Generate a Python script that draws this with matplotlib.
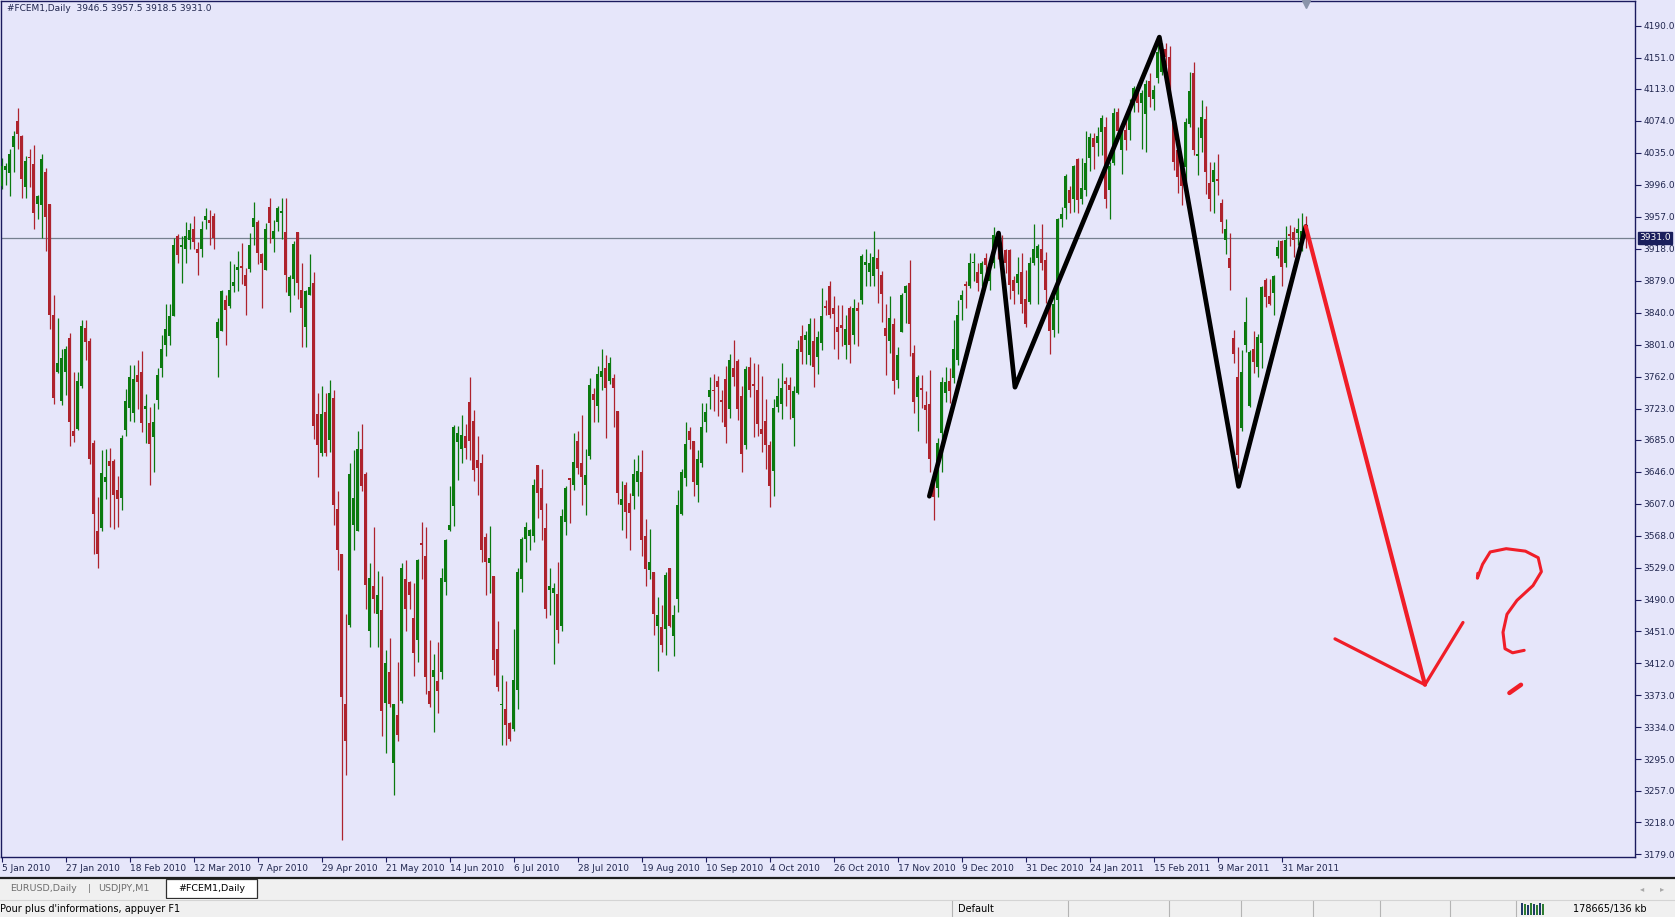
import numpy as np
import matplotlib
matplotlib.use("Agg")
import matplotlib.pyplot as plt
from matplotlib.patches import Rectangle

# ---- data (daily #FCEM1 candles) ----
opens = [
    3995, 4014, 4010, 4042, 4074, 4055, 3993, 4030, 4021, 3973,
    3971, 4011, 3972, 3837, 3768, 3732, 3767, 3809, 3696, 3698,
    3750, 3821, 3805, 3681, 3574, 3577, 3633, 3659, 3659, 3623,
    3614, 3697, 3724, 3718, 3764, 3768, 3723, 3705, 3688, 3733,
    3772, 3801, 3811, 3836, 3933, 3920, 3918, 3929, 3942, 3918,
    3918, 3953, 3953, 3958, 3809, 3818, 3855, 3848, 3872, 3892,
    3897, 3886, 3893, 3945, 3950, 3911, 3892, 3969, 3930, 3950,
    3962, 3938, 3860, 3881, 3938, 3867, 3822, 3862, 3876, 3716,
    3669, 3719, 3684, 3736, 3600, 3546, 3362, 3459, 3581, 3574,
    3674, 3643, 3451, 3507, 3472, 3477, 3364, 3402, 3291, 3349,
    3366, 3515, 3511, 3468, 3440, 3559, 3543, 3378, 3395, 3391,
    3401, 3511, 3575, 3604, 3682, 3673, 3689, 3731, 3708, 3660,
    3656, 3566, 3534, 3519, 3430, 3361, 3357, 3339, 3332, 3380,
    3515, 3564, 3567, 3567, 3654, 3626, 3577, 3501, 3498, 3497,
    3458, 3585, 3638, 3630, 3683, 3657, 3630, 3665, 3741, 3726,
    3761, 3773, 3757, 3760, 3720, 3605, 3630, 3608, 3616, 3633,
    3646, 3567, 3526, 3524, 3458, 3457, 3454, 3529, 3445, 3491,
    3594, 3638, 3695, 3683, 3630, 3656, 3706, 3737, 3746, 3757,
    3733, 3759, 3722, 3772, 3781, 3738, 3679, 3774, 3753, 3746,
    3698, 3708, 3679, 3647, 3725, 3729, 3757, 3752, 3711, 3742,
    3812, 3806, 3788, 3805, 3786, 3803, 3848, 3873, 3846, 3823,
    3825, 3801, 3845, 3813, 3846, 3855, 3898, 3890, 3885, 3906,
    3886, 3821, 3805, 3826, 3758, 3816, 3864, 3876, 3791, 3737,
    3748, 3727, 3729, 3640, 3626, 3693, 3742, 3757, 3760, 3782,
    3855, 3875, 3873, 3900, 3889, 3887, 3907, 3879, 3900, 3935,
    3925, 3916, 3916, 3880, 3876, 3890, 3857, 3853, 3901, 3906,
    3918, 3904, 3846, 3819, 3855, 3954, 3967, 3990, 3979, 4027,
    3979, 3990, 4029, 4053, 4047, 4060, 4066, 3990, 4022, 4085,
    4038, 4063, 4063, 4097, 4110, 4096, 4082, 4122, 4101, 4126,
    4134, 4161, 4152, 4075, 4038, 4026, 4017, 4070, 4132, 4031,
    4053, 4076, 3998, 3999, 4003, 3974, 3929, 3906, 3809, 3762,
    3699, 3801, 3726, 3795, 3774, 3803, 3880, 3860, 3864, 3909,
    3927, 3900, 3936, 3938, 3937, 3925, 3946.5,
]
highs = [
    4028, 4023, 4039, 4062, 4090, 4057, 4031, 4039, 4045, 3984,
    4034, 4016, 3972, 3861, 3834, 3795, 3799, 3815, 3768, 3767,
    3831, 3831, 3809, 3685, 3615, 3672, 3673, 3675, 3661, 3641,
    3691, 3747, 3776, 3776, 3782, 3793, 3741, 3725, 3730, 3772,
    3813, 3851, 3851, 3931, 3936, 3934, 3950, 3949, 3958, 3926,
    3952, 3968, 3965, 3962, 3833, 3868, 3862, 3903, 3899, 3915,
    3925, 3894, 3937, 3975, 3953, 3913, 3949, 3980, 3953, 3970,
    3980, 3980, 3886, 3927, 3938, 3900, 3867, 3912, 3890, 3742,
    3751, 3742, 3758, 3745, 3622, 3546, 3472, 3657, 3672, 3695,
    3704, 3646, 3534, 3579, 3525, 3519, 3428, 3443, 3362, 3414,
    3534, 3538, 3513, 3510, 3540, 3584, 3579, 3440, 3423, 3438,
    3528, 3564, 3628, 3703, 3702, 3715, 3704, 3761, 3721, 3690,
    3668, 3571, 3580, 3519, 3464, 3398, 3391, 3341, 3454, 3528,
    3566, 3584, 3576, 3637, 3654, 3649, 3608, 3529, 3510, 3536,
    3600, 3628, 3638, 3693, 3695, 3715, 3674, 3760, 3748, 3775,
    3795, 3788, 3786, 3765, 3720, 3634, 3633, 3620, 3662, 3666,
    3672, 3588, 3576, 3524, 3493, 3483, 3523, 3529, 3483, 3624,
    3649, 3706, 3700, 3683, 3672, 3730, 3730, 3761, 3765, 3763,
    3746, 3775, 3790, 3806, 3784, 3751, 3775, 3786, 3778, 3777,
    3763, 3734, 3683, 3734, 3760, 3779, 3761, 3761, 3751, 3807,
    3825, 3817, 3834, 3834, 3817, 3870, 3855, 3879, 3860, 3849,
    3849, 3837, 3848, 3857, 3853, 3912, 3917, 3913, 3939, 3917,
    3891, 3851, 3860, 3834, 3798, 3864, 3874, 3904, 3801, 3764,
    3764, 3744, 3770, 3644, 3687, 3762, 3774, 3772, 3831, 3855,
    3867, 3878, 3913, 3913, 3900, 3903, 3913, 3898, 3945, 3940,
    3935, 3918, 3918, 3885, 3908, 3913, 3892, 3908, 3948, 3924,
    3948, 3914, 3849, 3860, 3955, 3969, 4009, 3994, 4020, 4028,
    4029, 4061, 4059, 4059, 4067, 4081, 4078, 4024, 4089, 4090,
    4067, 4075, 4101, 4116, 4120, 4112, 4124, 4132, 4118, 4178,
    4169, 4169, 4165, 4079, 4043, 4028, 4077, 4134, 4146, 4067,
    4099, 4092, 4024, 4024, 4034, 3979, 3954, 3937, 3819, 3798,
    3794, 3859, 3794, 3817, 3814, 3872, 3882, 3881, 3886, 3929,
    3928, 3946, 3947, 3945, 3955, 3962, 3957.5,
]
lows = [
    3991, 3996, 3982, 4012, 4039, 3980, 3980, 3993, 3942, 3954,
    3931, 3915, 3820, 3729, 3766, 3727, 3740, 3677, 3682, 3697,
    3748, 3782, 3655, 3545, 3528, 3574, 3613, 3578, 3576, 3578,
    3599, 3689, 3708, 3707, 3723, 3694, 3681, 3630, 3646, 3722,
    3761, 3787, 3801, 3836, 3901, 3876, 3901, 3918, 3918, 3886,
    3908, 3942, 3922, 3917, 3762, 3817, 3801, 3846, 3865, 3866,
    3875, 3837, 3889, 3923, 3899, 3846, 3892, 3925, 3914, 3940,
    3930, 3865, 3841, 3862, 3857, 3798, 3798, 3861, 3686, 3640,
    3665, 3665, 3670, 3581, 3526, 3197, 3276, 3456, 3550, 3573,
    3622, 3479, 3432, 3473, 3432, 3323, 3303, 3359, 3251, 3317,
    3364, 3451, 3479, 3397, 3414, 3515, 3375, 3359, 3328, 3351,
    3393, 3495, 3574, 3580, 3636, 3657, 3661, 3660, 3634, 3618,
    3536, 3496, 3498, 3398, 3379, 3313, 3313, 3317, 3330, 3357,
    3499, 3536, 3550, 3560, 3589, 3563, 3467, 3471, 3411, 3437,
    3451, 3569, 3583, 3624, 3643, 3605, 3593, 3662, 3706, 3707,
    3746, 3687, 3753, 3700, 3607, 3575, 3565, 3550, 3601, 3616,
    3543, 3507, 3515, 3447, 3403, 3426, 3422, 3457, 3421, 3475,
    3593, 3628, 3674, 3616, 3609, 3652, 3694, 3723, 3720, 3714,
    3706, 3681, 3712, 3751, 3709, 3645, 3674, 3737, 3688, 3690,
    3670, 3649, 3603, 3616, 3719, 3710, 3726, 3710, 3677, 3741,
    3777, 3777, 3776, 3749, 3765, 3794, 3837, 3834, 3795, 3784,
    3799, 3784, 3778, 3802, 3799, 3851, 3873, 3873, 3873, 3852,
    3829, 3764, 3791, 3741, 3748, 3816, 3827, 3787, 3717, 3696,
    3724, 3681, 3646, 3587, 3615, 3646, 3731, 3730, 3754, 3776,
    3831, 3845, 3870, 3878, 3866, 3873, 3886, 3867, 3895, 3905,
    3890, 3888, 3857, 3851, 3863, 3839, 3823, 3851, 3898, 3851,
    3892, 3852, 3790, 3810, 3815, 3944, 3954, 3961, 3963, 3962,
    3973, 3982, 4013, 4015, 4031, 4032, 3967, 3954, 4020, 4058,
    4009, 4038, 4051, 4085, 4085, 4039, 4036, 4091, 4087, 4120,
    4130, 4141, 4104, 4014, 3986, 3971, 4000, 4067, 4032, 4008,
    4036, 3985, 3964, 3962, 3984, 3937, 3912, 3867, 3778, 3650,
    3695, 3792, 3725, 3766, 3762, 3772, 3847, 3849, 3837, 3907,
    3872, 3896, 3921, 3908, 3923, 3915, 3918.5,
]
closes = [
    4019, 4019, 4034, 4056, 4058, 4003, 4025, 4028, 3962, 3982,
    4027, 3957, 3837, 3736, 3778, 3785, 3795, 3707, 3690, 3757,
    3824, 3804, 3662, 3594, 3545, 3644, 3639, 3653, 3618, 3613,
    3687, 3732, 3761, 3759, 3755, 3705, 3726, 3680, 3706, 3764,
    3795, 3820, 3836, 3923, 3910, 3922, 3934, 3941, 3926, 3913,
    3942, 3958, 3949, 3931, 3829, 3866, 3843, 3868, 3877, 3896,
    3895, 3872, 3923, 3956, 3913, 3901, 3942, 3949, 3939, 3967,
    3963, 3886, 3883, 3924, 3876, 3845, 3866, 3871, 3702, 3679,
    3716, 3669, 3742, 3605, 3550, 3371, 3318, 3643, 3614, 3674,
    3628, 3508, 3516, 3491, 3495, 3354, 3413, 3362, 3362, 3325,
    3529, 3478, 3496, 3425, 3538, 3556, 3395, 3362, 3404, 3378,
    3516, 3562, 3581, 3700, 3693, 3691, 3675, 3683, 3648, 3651,
    3550, 3536, 3541, 3416, 3383, 3362, 3337, 3320, 3392, 3524,
    3564, 3579, 3575, 3630, 3620, 3599, 3478, 3506, 3504, 3453,
    3592, 3626, 3636, 3658, 3650, 3639, 3642, 3752, 3733, 3765,
    3769, 3748, 3779, 3748, 3620, 3613, 3597, 3596, 3643, 3647,
    3563, 3527, 3536, 3472, 3471, 3435, 3520, 3458, 3471, 3605,
    3646, 3680, 3685, 3633, 3662, 3700, 3719, 3745, 3744, 3749,
    3731, 3700, 3782, 3761, 3723, 3668, 3771, 3745, 3751, 3704,
    3692, 3679, 3628, 3724, 3738, 3748, 3753, 3746, 3744, 3795,
    3792, 3813, 3826, 3774, 3810, 3836, 3846, 3837, 3838, 3816,
    3821, 3820, 3801, 3846, 3842, 3909, 3902, 3901, 3908, 3893,
    3863, 3812, 3834, 3757, 3788, 3862, 3873, 3826, 3731, 3762,
    3746, 3721, 3662, 3615, 3681, 3755, 3755, 3744, 3795, 3837,
    3862, 3872, 3900, 3902, 3876, 3900, 3898, 3894, 3935, 3925,
    3905, 3900, 3874, 3866, 3887, 3851, 3826, 3900, 3918, 3921,
    3900, 3867, 3817, 3851, 3954, 3960, 4007, 3974, 4019, 3977,
    3992, 4022, 4054, 4042, 4055, 4077, 3978, 4019, 4084, 4061,
    4061, 4051, 4083, 4114, 4096, 4108, 4119, 4103, 4112, 4158,
    4154, 4152, 4110, 4024, 4006, 3995, 4073, 4110, 4038, 4034,
    4078, 4011, 3978, 4014, 4000, 3951, 3942, 3894, 3790, 3666,
    3768, 3829, 3792, 3780, 3810, 3871, 3859, 3851, 3885, 3920,
    3896, 3929, 3933, 3929, 3942, 3940, 3931.0,
]

price_ticks = [4190, 4151, 4113, 4074, 4035, 3996, 3957, 3918, 3879, 3840,
               3801, 3762, 3723, 3685, 3646, 3607, 3568, 3529, 3490, 3451,
               3412, 3373, 3334, 3295, 3257, 3218, 3179]
date_labels = ["5 Jan 2010", "27 Jan 2010", "18 Feb 2010", "12 Mar 2010", "7 Apr 2010",
               "29 Apr 2010", "21 May 2010", "14 Jun 2010", "6 Jul 2010", "28 Jul 2010",
               "19 Aug 2010", "10 Sep 2010", "4 Oct 2010", "26 Oct 2010", "17 Nov 2010",
               "9 Dec 2010", "31 Dec 2010", "24 Jan 2011", "15 Feb 2011", "9 Mar 2011",
               "31 Mar 2011"]
label_every = 16
last_price = 3931.0

# hand drawn marks (bar index, price)
zigzag_x = [231.9, 249.2, 253.3, 289.4, 309.2, 326.0]
zigzag_y = [3616, 3937, 3749, 4176, 3628, 3945]
arrow_x = [326.0, 355.8]
arrow_y = [3945, 3386]
head_x = [333.3, 355.8, 365.3]
head_y = [3442, 3386, 3462]
qmark_x = [369.0, 368.9, 370.2, 372.1, 376.1, 380.9, 384.1, 384.9, 382.8,
           378.8, 376.3, 375.3, 375.8, 377.7, 380.6]
qmark_y = [3522, 3516, 3533, 3548, 3552, 3549, 3541, 3524, 3507,
           3489, 3472, 3450, 3430, 3425, 3428]
qdot_x = [376.9, 379.8]
qdot_y = [3376, 3386]

BG = "#E6E6FA"
BULL = "#0B7A0F"
BEAR = "#AE232D"
NAVY = "#1B1B5E"
TXT = "#20264E"
FONT = "DejaVu Sans"

W, H = 1675, 917
fig = plt.figure(figsize=(W / 100, H / 100), dpi=100)
fig.patch.set_facecolor(BG)

# whole-window layer in pixel coordinates (tab bar, status bar)
win = fig.add_axes([0, 0, 1, 1])
win.set_xlim(0, W)
win.set_ylim(H, 0)
win.axis("off")
win.set_facecolor(BG)

# chart area
ax = fig.add_axes([1 / W, (H - 857) / H, 1634 / W, 856 / H])
ax.set_facecolor(BG)
ax.set_xlim(-0.175, 408.3)
ax.set_ylim(3175.9, 4220.1)

o = np.array(opens, float)
h = np.array(highs, float)
l = np.array(lows, float)
c = np.array(closes, float)
x = np.arange(len(o))
cols = np.where(c >= o, BULL, BEAR)

ax.axhline(last_price, color="#76808F", lw=0.9, zorder=1)
ax.vlines(x, l, h, colors=cols, lw=0.9, zorder=2)
body = np.maximum(np.abs(c - o), 1.6)
ax.bar(x, body, bottom=np.minimum(o, c), width=0.8, color=cols, linewidth=0, zorder=3)

# drawings
ax.plot(zigzag_x, zigzag_y, color="black", lw=3.4, solid_joinstyle="round",
        solid_capstyle="round", zorder=5)
ax.plot(arrow_x, arrow_y, color="#F01E28", lw=3.0, solid_capstyle="round", zorder=5)
ax.plot(head_x, head_y, color="#F01E28", lw=2.3, solid_joinstyle="round",
        solid_capstyle="round", zorder=5)
ax.plot(qmark_x, qmark_y, color="#F01E28", lw=2.2, solid_joinstyle="round",
        solid_capstyle="round", zorder=5)
ax.plot(qdot_x, qdot_y, color="#F01E28", lw=3.2, solid_capstyle="round", zorder=5)

# axes styling
for s in ax.spines.values():
    s.set_color(NAVY)
    s.set_linewidth(1.0)
ax.yaxis.tick_right()
ax.set_yticks(price_ticks)
ax.set_yticklabels([f"{p:.1f}" for p in price_ticks])
ax.tick_params(axis="y", direction="out", length=4, width=0.8, color=NAVY,
               labelcolor=TXT, labelsize=6.5, pad=2)
ax.set_xticks(np.arange(len(date_labels)) * label_every)
ax.set_xticklabels(date_labels)
ax.tick_params(axis="x", direction="out", length=3.5, width=0.8, color=NAVY,
               labelcolor=TXT, labelsize=6.5, pad=1.5)
for lbl in ax.get_xticklabels() + ax.get_yticklabels():
    lbl.set_fontfamily(FONT)
for lbl in ax.get_xticklabels():
    lbl.set_horizontalalignment("left")

# last price box on the scale
ax.annotate(f"{last_price:.1f}", xy=(1, last_price), xycoords=("axes fraction", "data"),
            xytext=(4, 0), textcoords="offset pixels", va="center", ha="left",
            fontsize=6.5, family=FONT, color="white",
            bbox=dict(boxstyle="square,pad=0.15", fc="#1A1F5C", ec="#1A1F5C"))

# header and shift marker
ax.annotate("#FCEM1,Daily  3946.5 3957.5 3918.5 3931.0", xy=(0, 1), xycoords="axes fraction",
            xytext=(6, -3), textcoords="offset pixels", va="top", ha="left",
            fontsize=6.5, family=FONT, color=TXT)
ax.plot([len(o) - 1], [4216.5], marker="v", ms=6, color="#8A94AA", clip_on=False, zorder=6)

# tab bar
win.add_patch(Rectangle((0, 877), W, 22, fc="#F0F0F0", ec="none"))
win.plot([0, W], [878, 878], color="#1E1E1E", lw=1.6)
win.text(10, 888.5, "EURUSD,Daily", fontsize=6.8, family=FONT, color="#6E6E6E", va="center")
win.text(88, 888.5, "|", fontsize=6.8, family=FONT, color="#6E6E6E", va="center")
win.text(98, 888.5, "USDJPY,M1", fontsize=6.8, family=FONT, color="#6E6E6E", va="center")
win.add_patch(Rectangle((166, 879), 91, 19, fc="white", ec="#303030", lw=0.9))
win.text(178, 888.5, "#FCEM1,Daily", fontsize=6.8, family=FONT, color="black", va="center")
win.text(1640, 888.5, "\u25C2", fontsize=6, family=FONT, color="#A8A8A8", va="center")
win.text(1660, 888.5, "\u25B8", fontsize=6, family=FONT, color="#A8A8A8", va="center")

# status bar
win.add_patch(Rectangle((0, 899), W, 18, fc="#F0F0F0", ec="none"))
win.plot([0, W], [899.5, 899.5], color="#D4D4D4", lw=0.8)
win.text(0, 909, "Pour plus d'informations, appuyer F1", fontsize=7, family=FONT,
         color="black", va="center")
for sx in [952, 1068, 1169, 1241, 1313, 1380, 1450, 1516]:
    win.plot([sx, sx], [901, 917], color="#B4B4B4", lw=0.8)
win.text(958, 909, "Default", fontsize=7, family=FONT, color="black", va="center")
for k in range(8):
    win.add_patch(Rectangle((1521 + k * 3, 903 + (k % 3)), 2, 12 - (k % 3),
                            fc="#2E7D32" if k % 2 else "#1F3A6A", ec="none"))
win.text(1573, 909, "178665/136 kb", fontsize=7, family=FONT, color="black", va="center")

fig.savefig("out.png", dpi=100, facecolor=BG)
